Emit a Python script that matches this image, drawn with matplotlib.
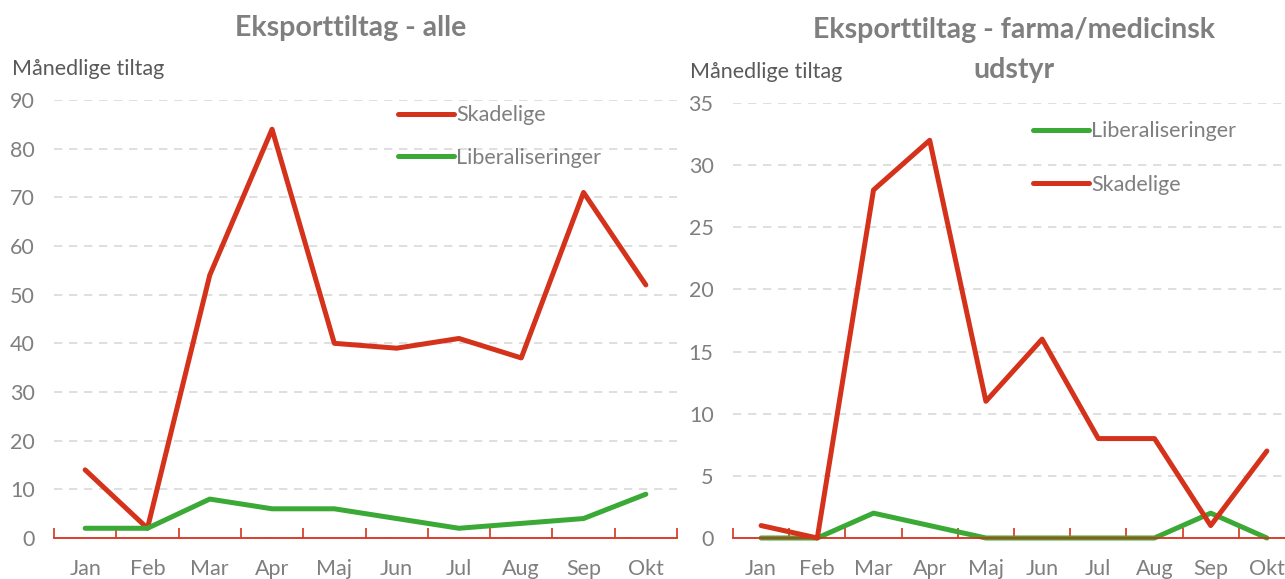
import matplotlib.pyplot as plt
import numpy as np

plt.rcParams['font.family'] = ['Lato', 'DejaVu Sans']

months = ['Jan', 'Feb', 'Mar', 'Apr', 'Maj', 'Jun', 'Jul', 'Aug', 'Sep', 'Okt']

# Eksporttiltag - alle
alle_skadelige = [14, 2, 54, 84, 40, 39, 41, 37, 71, 52]
alle_liberal = [2, 2, 8, 6, 6, 4, 2, 3, 4, 9]

# Eksporttiltag - farma/medicinsk udstyr
farma_skadelige = [1, 0, 28, 32, 11, 16, 8, 8, 1, 7]
farma_liberal = [0, 0, 2, 1, 0, 0, 0, 0, 2, 0]

RED = '#d5321c'
GREEN = '#3aa935'
GRAY = '#7f7f7f'
GRID = '#d9d9d9'
FS = 15.5

W, H = 1285, 579
fig = plt.figure(figsize=(W / 100, H / 100), dpi=100)


def px_axes(x0, x1, y_top, y_bot):
    return fig.add_axes([x0 / W, 1 - y_bot / H, (x1 - x0) / W, (y_bot - y_top) / H])


def style(ax, ymax, step):
    x = np.arange(len(months))
    ax.set_xlim(-0.5, len(months) - 0.5)
    ax.set_ylim(0, ymax)
    ax.set_yticks(np.arange(0, ymax + 1, step))
    ax.set_xticks(x)
    ax.set_xticklabels(months)
    ax.set_xticks(np.arange(-0.5, len(months)), minor=True)
    for s in ['top', 'right', 'left']:
        ax.spines[s].set_visible(False)
    ax.spines['bottom'].set_color(RED)
    ax.spines['bottom'].set_linewidth(1.3)
    ax.tick_params(axis='y', length=0, labelsize=FS, labelcolor=GRAY, pad=14)
    ax.tick_params(axis='x', which='major', length=0, labelsize=FS, labelcolor=GRAY, pad=15)
    ax.tick_params(axis='x', which='minor', direction='in', length=7, color=RED, width=1.2)
    ax.grid(axis='y', color=GRID, linestyle=(0, (5, 4)), linewidth=1.2)
    ax.set_axisbelow(True)


def legend(ax, xa, ya, spacing):
    ax.legend(loc='upper left', bbox_to_anchor=(xa, ya), frameon=False, fontsize=FS,
              handlelength=2.6, handletextpad=0.1, labelspacing=spacing, labelcolor=GRAY,
              borderpad=0, borderaxespad=0)


x = np.arange(len(months))

# left chart
ax1 = px_axes(54, 677, 100, 538)
ax1.plot(x, alle_skadelige, color=RED, lw=3.6, solid_capstyle='round', label='Skadelige', clip_on=False)
ax1.plot(x, alle_liberal, color=GREEN, lw=3.6, solid_capstyle='round', label='Liberaliseringer', clip_on=False)
style(ax1, 90, 10)
legend(ax1, 0.552, 0.988, 1.05)
fig.text(351 / W, 1 - 28 / H, 'Eksporttiltag - alle', ha='center', va='center',
         fontsize=20.5, fontweight='bold', color=GRAY)
fig.text(12 / W, 1 - 69 / H, 'Månedlige tiltag', ha='left', va='center', fontsize=FS, color='#595959')

# right chart
ax2 = px_axes(733, 1295, 103, 538)
ax2.plot(x, farma_liberal, color=GREEN, lw=3.6, solid_capstyle='round', label='Liberaliseringer', clip_on=False)
ax2.plot(x, farma_skadelige, color=RED, lw=3.6, solid_capstyle='round', label='Skadelige', clip_on=False)
style(ax2, 35, 5)
legend(ax2, 0.534, 0.958, 1.55)
fig.text(1014 / W, 1 - 30 / H, 'Eksporttiltag - farma/medicinsk', ha='center', va='center',
         fontsize=20.5, fontweight='bold', color=GRAY)
fig.text(1014 / W, 1 - 70 / H, 'udstyr', ha='center', va='center',
         fontsize=20.5, fontweight='bold', color=GRAY)
fig.text(690 / W, 1 - 72 / H, 'Månedlige tiltag', ha='left', va='center', fontsize=FS, color='#595959')

fig.savefig('out.png', dpi=100)
